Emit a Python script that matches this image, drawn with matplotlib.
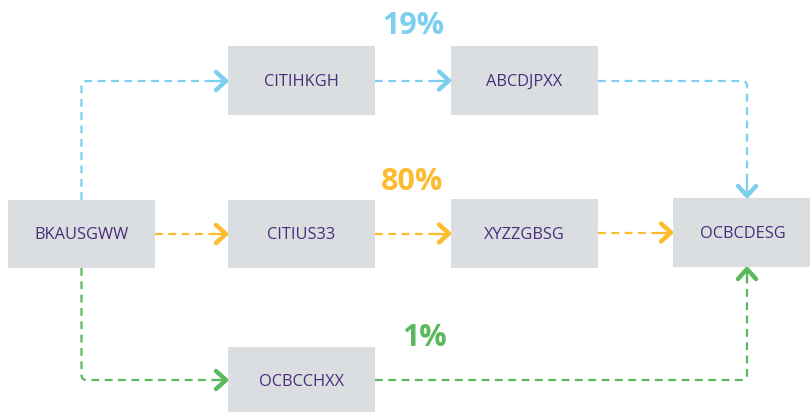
import matplotlib.pyplot as plt
from matplotlib.path import Path
from matplotlib.patches import PathPatch, Rectangle

# banks (nodes) and routes with their share of traffic
nodes = ["BKAUSGWW", "CITIHKGH", "ABCDJPXX", "CITIUS33", "XYZZGBSG", "OCBCDESG", "OCBCCHXX"]
routes = [
    ["BKAUSGWW", "CITIHKGH", "ABCDJPXX", "OCBCDESG"],
    ["BKAUSGWW", "CITIUS33", "XYZZGBSG", "OCBCDESG"],
    ["BKAUSGWW", "OCBCCHXX", "OCBCDESG"],
]
shares = ["19%", "80%", "1%"]
colors = ["#7ccfef", "#fdbb2f", "#5cb85f"]

# layout in pixels: (left, top, right, bottom)
box = {
    "BKAUSGWW": (8, 200, 155, 268),
    "CITIHKGH": (228, 46, 375, 115),
    "ABCDJPXX": (451, 46, 598, 115),
    "CITIUS33": (228, 200, 375, 268),
    "XYZZGBSG": (451, 199, 598, 268),
    "OCBCDESG": (673, 198, 812, 267),
    "OCBCCHXX": (228, 347, 375, 414),
}
label_pos = [(413, 26), (412, 182), (425, 338)]
x_drop = 747  # vertical leg into the last bank

fig = plt.figure(figsize=(8.1, 4.12), dpi=100)
ax = fig.add_axes([0, 0, 1, 1])
ax.set_xlim(0, 810)
ax.set_ylim(412, 0)
ax.axis("off")

for n in nodes:
    l, t, r, b = box[n]
    ax.add_patch(Rectangle((l, t), r - l, b - t, facecolor="#dbdee1", edgecolor="none", zorder=1))
    ax.text((l + r) / 2, (t + b) / 2 + 1, n, ha="center", va="center", fontsize=11.8,
            family="Open Sans", color="#4b2c7b", zorder=3)


def rounded(pts, rad=5):
    verts = [pts[0]]
    codes = [Path.MOVETO]
    for i in range(1, len(pts) - 1):
        p0, p1, p2 = pts[i - 1], pts[i], pts[i + 1]
        d1 = ((p1[0] - p0[0]), (p1[1] - p0[1]))
        d2 = ((p2[0] - p1[0]), (p2[1] - p1[1]))
        l1 = (d1[0] ** 2 + d1[1] ** 2) ** 0.5
        l2 = (d2[0] ** 2 + d2[1] ** 2) ** 0.5
        a = (p1[0] - d1[0] / l1 * rad, p1[1] - d1[1] / l1 * rad)
        c = (p1[0] + d2[0] / l2 * rad, p1[1] + d2[1] / l2 * rad)
        verts += [a, p1, c]
        codes += [Path.LINETO, Path.CURVE3, Path.CURVE3]
    verts.append(pts[-1])
    codes.append(Path.LINETO)
    return Path(verts, codes)


def head(ax, tip, direction, color):
    dx, dy = direction
    L, W = 10, 9
    bx, by = tip[0] - dx * L, tip[1] - dy * L
    px, py = -dy, dx
    ax.plot([bx + px * W, tip[0], bx - px * W], [by + py * W, tip[1], by - py * W],
            color=color, lw=3.2, solid_capstyle="round", solid_joinstyle="round", zorder=4)
    ax.plot([tip[0] - dx * 14, tip[0] - dx * 1], [tip[1] - dy * 14, tip[1] - dy * 1],
            color=color, lw=1.6, solid_capstyle="butt", zorder=4)


def connect(a, b, color):
    la, ta, ra, ba = box[a]
    lb, tb, rb, bb = box[b]
    ya, yb = (ta + ba) / 2, (tb + bb) / 2
    xa = (la + ra) / 2
    if abs(ya - yb) < 5:
        pts = [(ra, yb), (lb - 2, yb)]
        d = (1, 0)
    elif a == "BKAUSGWW":
        y_turn = 81 if yb < ya else 380
        start = ta if yb < ya else ba
        pts = [(xa, start), (xa, y_turn), (lb - 2, y_turn)]
        d = (1, 0)
    else:
        y_turn = 81 if ya < yb else 380
        end = tb - 2 if ya < yb else bb + 2
        pts = [(ra, y_turn), (x_drop, y_turn), (x_drop, end)]
        d = (0, 1) if ya < yb else (0, -1)
    ax.add_patch(PathPatch(rounded(pts), facecolor="none", edgecolor=color, lw=1.6,
                           linestyle=(0, (3.5, 2.5)), zorder=2))
    head(ax, pts[-1], d, color)


for route, color in zip(routes, colors):
    for a, b in zip(route[:-1], route[1:]):
        connect(a, b, color)

for s, (x, y), color in zip(shares, label_pos, colors):
    ax.text(x, y, s, ha="center", va="center", fontsize=22, fontweight="bold",
            family="Open Sans", color=color)

fig.savefig("out.png", dpi=100)
